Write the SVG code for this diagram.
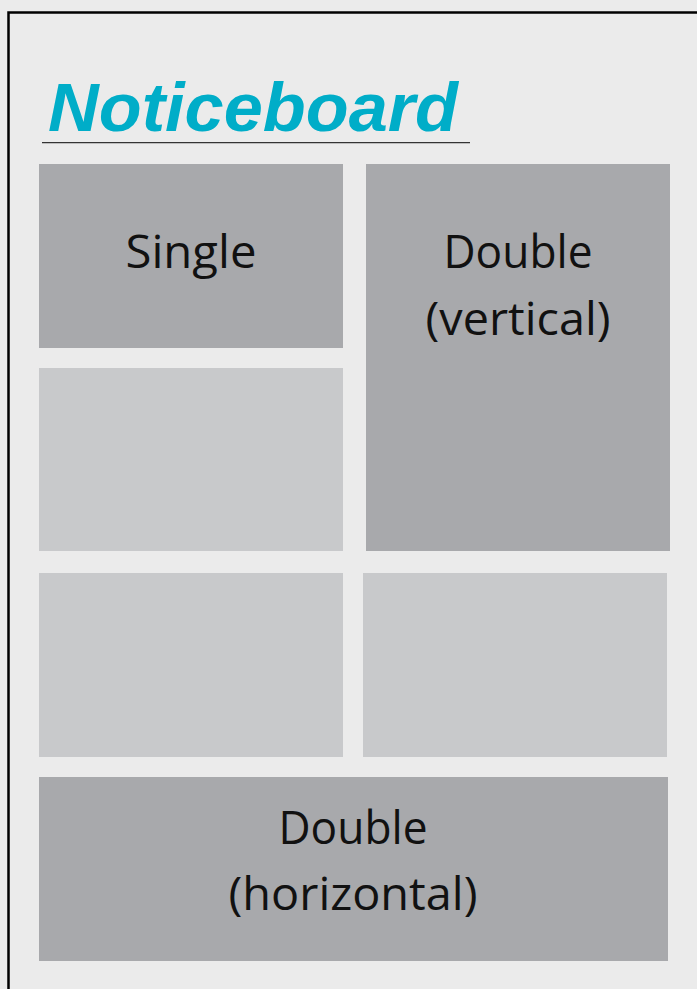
<svg xmlns="http://www.w3.org/2000/svg" width="697" height="989" viewBox="0 0 697 989">
<style>
.dark{fill:#A8A9AC}
.light{fill:#C8C9CB}
.lbl{font-family:"Open Sans","DejaVu Sans",sans-serif;font-size:45px;fill:#111;text-anchor:middle}
.title{font-family:"Liberation Sans",sans-serif;font-style:italic;font-weight:bold;font-size:68px;fill:#00ADC8}
</style>
<rect x="0" y="0" width="697" height="989" fill="#EBEBEB"/>
<path d="M8.5 989 V12.5 H697" fill="none" stroke="#000" stroke-width="2.5"/>
<g id="title">
<text class="title" x="48" y="131" textLength="410" lengthAdjust="spacingAndGlyphs">Noticeboard</text>
<line x1="42" y1="142.7" x2="470" y2="142.7" stroke="#333" stroke-width="1.3"/>
</g>
<g id="single">
<rect class="dark" x="39" y="164" width="304" height="184"/>
<text class="lbl" x="191" y="268" textLength="131" lengthAdjust="spacingAndGlyphs">Single</text>
</g>
<g id="double-vertical">
<rect class="dark" x="366" y="164" width="304" height="387"/>
<text class="lbl" x="518" y="268" textLength="149" lengthAdjust="spacingAndGlyphs">Double</text>
<text class="lbl" x="518" y="335" textLength="185" lengthAdjust="spacingAndGlyphs">(vertical)</text>
</g>
<g id="empty-1"><rect class="light" x="39" y="368" width="304" height="183"/></g>
<g id="empty-2"><rect class="light" x="39" y="573" width="304" height="184"/></g>
<g id="empty-3"><rect class="light" x="363" y="573" width="304" height="184"/></g>
<g id="double-horizontal">
<rect class="dark" x="39" y="777" width="629" height="184"/>
<text class="lbl" x="353" y="844" textLength="149" lengthAdjust="spacingAndGlyphs">Double</text>
<text class="lbl" x="353" y="910" textLength="249" lengthAdjust="spacingAndGlyphs">(horizontal)</text>
</g>
<g id="connectors"/>
</svg>
